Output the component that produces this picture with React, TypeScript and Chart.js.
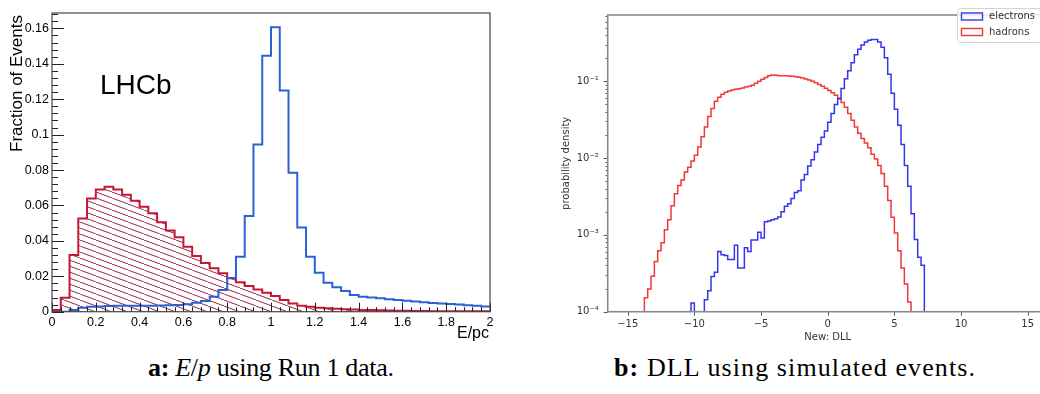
import React, { useEffect, useRef } from "react";
import { Chart, registerables } from "chart.js";
Chart.register(...registerables);

// ---------------- Panel a: E/p ----------------
const EP_EDGES = [
  0, 0.04, 0.08, 0.12, 0.16, 0.2, 0.24, 0.28, 0.32, 0.36, 0.4, 0.44, 0.48, 0.52, 0.56, 0.6, 0.64,
  0.68, 0.72, 0.76, 0.8, 0.84, 0.88, 0.92, 0.96, 1, 1.04, 1.08, 1.12, 1.16, 1.2, 1.24, 1.28, 1.32,
  1.36, 1.4, 1.44, 1.48, 1.52, 1.56, 1.6, 1.64, 1.68, 1.72, 1.76, 1.8, 1.84, 1.88, 1.92, 1.96, 2,
];
const EP_ELECTRONS = [
  0, 0, 0.001, 0.0022, 0.0028, 0.003, 0.0032, 0.0033, 0.0034, 0.0034,
  0.0034, 0.0034, 0.0035, 0.0036, 0.0038, 0.0042, 0.005, 0.006, 0.0085, 0.0123,
  0.019, 0.031, 0.054, 0.0945, 0.1445, 0.1607, 0.1249, 0.0785, 0.0475, 0.031,
  0.022, 0.0164, 0.0138, 0.0117, 0.0094, 0.0085, 0.008, 0.0076, 0.007, 0.0066,
  0.0062, 0.0057, 0.0053, 0.0049, 0.0046, 0.0043, 0.004, 0.0037, 0.0034, 0.003,
];
const EP_HADRONS = [
  0.001, 0.0079, 0.032, 0.0527, 0.064, 0.069, 0.0706, 0.069, 0.066, 0.0627,
  0.0593, 0.0556, 0.0505, 0.0458, 0.042, 0.0367, 0.0315, 0.0275, 0.0245, 0.0217,
  0.0189, 0.0166, 0.0145, 0.0126, 0.0107, 0.0089, 0.0066, 0.0047, 0.0034, 0.0028,
  0.0023, 0.0019, 0.0016, 0.0014, 0.0012, 0.001, 0.0009, 0.0008, 0.0007, 0.0006,
  0.0005, 0.0004, 0.0004, 0.0003, 0.0003, 0.0003, 0.0002, 0.0002, 0.0002, 0.0002,
];
const EP_X_TICKS = [0, 0.2, 0.4, 0.6, 0.8, 1, 1.2, 1.4, 1.6, 1.8, 2];
const EP_Y_TICKS = [0, 0.02, 0.04, 0.06, 0.08, 0.1, 0.12, 0.14, 0.16];
const EP_Y_MAX = 0.1687;

// ---------------- Panel b: DLL ----------------
const DLL_EDGES = [
  -14, -13.75, -13.5, -13.25, -13, -12.75, -12.5, -12.25, -12, -11.75, -11.5, -11.25, -11, -10.75,
  -10.5, -10.25, -10, -9.75, -9.5, -9.25, -9, -8.75, -8.5, -8.25, -8, -7.75, -7.5, -7.25, -7, -6.75,
  -6.5, -6.25, -6, -5.75, -5.5, -5.25, -5, -4.75, -4.5, -4.25, -4, -3.75, -3.5, -3.25, -3, -2.75,
  -2.5, -2.25, -2, -1.75, -1.5, -1.25, -1, -0.75, -0.5, -0.25, 0, 0.25, 0.5, 0.75, 1, 1.25, 1.5,
  1.75, 2, 2.25, 2.5, 2.75, 3, 3.25, 3.5, 3.75, 4, 4.25, 4.5, 4.75, 5, 5.25, 5.5, 5.75, 6, 6.25,
  6.5, 6.75, 7, 7.25, 7.5,
];
const DLL_ELECTRONS = [
  0, 0, 0, 0, 0, 0, 0, 0, 0, 0, 0, 0, 0, 0, 0,
  1.3e-4, 0, 0, 0,
  1.43e-4, 1.87e-4, 2.88e-4, 3.27e-4, 6.07e-4, 5.5e-4, 5.4e-4, 4.8e-4, 4.8e-4, 7.35e-4,
  3.7e-4, 3.7e-4, 6.8e-4, 6.1e-4, 8.6e-4, 8.6e-4, 1.08e-3, 9.1e-4, 1.48e-3, 1.52e-3,
  1.57e-3, 1.62e-3, 1.71e-3, 2.0e-3, 2.36e-3, 2.55e-3, 2.98e-3, 3.56e-3, 3.76e-3, 5.2e-3,
  6.1e-3, 7.9e-3, 9.5e-3, 1.2e-2, 1.5e-2, 1.87e-2, 2.26e-2, 2.94e-2, 3.81e-2, 4.99e-2,
  5.93e-2, 8.07e-2, 0.108, 0.137, 0.175, 0.222, 0.262, 0.297, 0.326, 0.342,
  0.349, 0.349, 0.326, 0.277, 0.202, 0.124, 0.0698, 0.0432, 0.0267, 0.015,
  0.008, 0.0043, 0.00189, 0.00087, 0.00051, 0.000404, 0,
];
const DLL_HADRONS = [
  0, 1.52e-4, 1.98e-4, 2.9e-4, 4.5e-4, 6.2e-4, 7.9e-4, 1.17e-3, 1.58e-3, 2.4e-3,
  3.43e-3, 4.4e-3, 5.2e-3, 6.6e-3, 7.6e-3, 9.2e-3, 1.09e-2, 1.39e-2, 1.9e-2, 2.54e-2,
  3.47e-2, 4.44e-2, 5.5e-2, 6.2e-2, 6.8e-2, 7.2e-2, 7.5e-2, 7.7e-2, 7.9e-2, 0.08,
  0.082, 0.084, 0.086, 0.089, 0.094, 0.1, 0.106, 0.112, 0.118, 0.121,
  0.12, 0.118, 0.118, 0.118, 0.117, 0.116, 0.115, 0.113, 0.11, 0.107,
  0.104, 0.1, 0.096, 0.091, 0.086, 0.081, 0.076, 0.071, 0.066, 0.06,
  0.053, 0.046, 0.038, 0.031, 0.0254, 0.021, 0.018, 0.0157, 0.0136, 0.0112,
  0.0097, 0.008, 0.0063, 0.0043, 0.0028, 0.0017, 0.00106, 0.00062, 0.00037, 0.00023,
  0.000134, 0, 0, 0, 0, 0,
];
const DLL_X_TICKS = [-15, -10, -5, 0, 5, 10, 15];
const DLL_X_TICK_LABELS = ["\u221215", "\u221210", "\u22125", "0", "5", "10", "15"];
const DLL_Y_TICKS = [1e-4, 1e-3, 1e-2, 1e-1];
const DLL_Y_TICK_LABELS = ["10\u207b\u2074", "10\u207b\u00b3", "10\u207b\u00b2", "10\u207b\u00b9"];
const DLL_Y_MIN = 1e-4;
const DLL_Y_MAX = 0.73;
const DLL_FLOOR = 1e-7;

const ROOT_BLUE = "rgb(45, 95, 215)";
const ROOT_RED = "rgb(200, 22, 50)";
const HATCH = "rgb(150, 40, 75)";
const MPL_BLUE = "#3535ee";
const MPL_RED = "#f03838";

function toSteps(edges: number[], values: number[], floor?: number) {
  return edges.map((x, i) => {
    const v = values[Math.min(i, values.length - 1)];
    return { x, y: floor !== undefined && !(v > 0) ? floor : v };
  });
}

function makeHatch(): CanvasPattern | string {
  const W = 16, H = 6;
  const c = document.createElement("canvas");
  c.width = W;
  c.height = H;
  const g = c.getContext("2d");
  if (!g) return "rgba(150,40,75,0.3)";
  g.strokeStyle = HATCH;
  g.lineWidth = 1;
  for (const dx of [-W, 0, W]) {
    g.beginPath();
    g.moveTo(dx, 0);
    g.lineTo(dx + W, H);
    g.stroke();
  }
  return g.createPattern(c, "repeat") || "rgba(150,40,75,0.3)";
}

const rootDecor = {
  id: "rootDecor",
  afterDatasetsDraw(chart: any) {
    const { ctx, chartArea: a, scales } = chart;
    const x = scales.x, y = scales.y;
    ctx.save();
    ctx.strokeStyle = "#222";
    ctx.lineWidth = 1;
    ctx.beginPath();
    for (let k = 0; k <= 60; k++) {
      const v = k * 0.004;
      if (v > EP_Y_MAX + 1e-9) break;
      const py = Math.round(y.getPixelForValue(v)) + 0.5;
      const len = k % 5 === 0 ? 12 : 6;
      ctx.moveTo(a.left, py);
      ctx.lineTo(a.left + len, py);
    }
    for (let k = 0; k <= 50; k++) {
      const px = Math.round(x.getPixelForValue(k * 0.04)) + 0.5;
      const len = k % 5 === 0 ? 9 : 4.5;
      ctx.moveTo(px, a.bottom);
      ctx.lineTo(px, a.bottom - len);
    }
    ctx.stroke();
    ctx.strokeStyle = "#444";
    ctx.lineWidth = 1.2;
    ctx.strokeRect(a.left, a.top, a.right - a.left, a.bottom - a.top);

    ctx.fillStyle = "#000";
    ctx.font = '28px "Liberation Sans", Arial, sans-serif';
    ctx.textAlign = "left";
    ctx.textBaseline = "alphabetic";
    ctx.fillText("LHCb", 100, 94);

    ctx.font = '16px "Liberation Sans", Arial, sans-serif';
    ctx.textAlign = "right";
    ctx.fillText("E/pc", a.right - 1, 338);

    ctx.save();
    ctx.font = '17px "Liberation Sans", Arial, sans-serif';
    ctx.translate(22, a.top + 2);
    ctx.rotate(-Math.PI / 2);
    ctx.textAlign = "right";
    ctx.textBaseline = "alphabetic";
    ctx.fillText("Fraction of Events", 0, 0);
    ctx.restore();
    ctx.restore();
  },
};

const mplDecor = {
  id: "mplDecor",
  afterDatasetsDraw(chart: any) {
    const { ctx, chartArea: a, scales } = chart;
    const x = scales.x, y = scales.y;
    ctx.save();
    ctx.strokeStyle = "#555";
    ctx.lineWidth = 1;
    ctx.beginPath();
    for (const t of DLL_X_TICKS) {
      const px = Math.round(x.getPixelForValue(t)) + 0.5;
      ctx.moveTo(px, a.bottom);
      ctx.lineTo(px, a.bottom + 4);
    }
    for (let e = -4; e <= 0; e++) {
      for (let m = 1; m <= 9; m++) {
        const v = m * Math.pow(10, e);
        if (v < DLL_Y_MIN * 0.999 || v > DLL_Y_MAX) continue;
        const py = Math.round(y.getPixelForValue(v)) + 0.5;
        const len = m === 1 ? 4 : 2.2;
        ctx.moveTo(a.left, py);
        ctx.lineTo(a.left - len, py);
      }
    }
    ctx.stroke();
    ctx.strokeStyle = "#8a8a8a";
    ctx.lineWidth = 1.6;
    ctx.strokeRect(a.left, a.top, a.right - a.left, a.bottom - a.top);

    ctx.fillStyle = "#333";
    ctx.font = '10px "DejaVu Sans", sans-serif';
    ctx.textAlign = "center";
    ctx.textBaseline = "middle";
    ctx.fillText("New: DLL", (a.left + a.right) / 2, 337);
    ctx.save();
    ctx.translate(46, (a.top + a.bottom) / 2);
    ctx.rotate(-Math.PI / 2);
    ctx.fillText("probability density", 0, 0);
    ctx.restore();

    // legend
    const bx = 437, by = 8, bw = 85, bh = 34;
    ctx.fillStyle = "rgba(255,255,255,0.85)";
    ctx.strokeStyle = "#d4d4d4";
    ctx.lineWidth = 1;
    ctx.beginPath();
    (ctx as any).roundRect ? (ctx as any).roundRect(bx + 0.5, by + 0.5, bw, bh, 3) : ctx.rect(bx + 0.5, by + 0.5, bw, bh);
    ctx.fill();
    ctx.stroke();
    chart.data.datasets.forEach((ds: any, i: number) => {
      const cy = by + 8.5 + i * 15.5;
      ctx.strokeStyle = ds.borderColor;
      ctx.lineWidth = 1.4;
      ctx.strokeRect(bx + 4.5, cy - 3.5, 21, 7);
      ctx.fillStyle = "#333";
      ctx.textAlign = "left";
      ctx.textBaseline = "middle";
      ctx.font = '10px "DejaVu Sans", sans-serif';
      ctx.fillText(ds.label, bx + 32, cy);
    });
    ctx.restore();
  },
};

export default function App() {
  const leftRef = useRef<HTMLCanvasElement>(null);
  const rightRef = useRef<HTMLCanvasElement>(null);

  useEffect(() => {
    if (!leftRef.current || !rightRef.current) return;
    const hatch = makeHatch();
    const left = new Chart(leftRef.current, {
      type: "line",
      data: {
        datasets: [
          {
            label: "electrons",
            data: toSteps(EP_EDGES, EP_ELECTRONS),
            borderColor: ROOT_BLUE,
            borderWidth: 2,
            pointRadius: 0,
            stepped: true,
            fill: false,
          },
          {
            label: "hadrons",
            data: toSteps(EP_EDGES, EP_HADRONS),
            borderColor: ROOT_RED,
            backgroundColor: hatch as any,
            borderWidth: 2,
            pointRadius: 0,
            stepped: true,
            fill: "origin",
          },
        ],
      },
      options: {
        responsive: false,
        animation: false,
        events: [],
        layout: { padding: { left: 0, right: 30, top: 13, bottom: 0 } },
        plugins: { legend: { display: false }, tooltip: { enabled: false } },
        scales: {
          x: {
            type: "linear",
            min: 0,
            max: 2,
            afterFit: (s: any) => { s.height = 33.3; },
            afterBuildTicks: (s: any) => { s.ticks = EP_X_TICKS.map((v) => ({ value: v })); },
            grid: { display: false, drawTicks: false },
            border: { display: false },
            ticks: {
              padding: 3,
              autoSkip: false,
              maxRotation: 0,
              color: "#000",
              font: { family: '"Liberation Sans", Arial, sans-serif', size: 12.5 },
              callback: (v: any) => String(v),
            },
          },
          y: {
            type: "linear",
            min: 0,
            max: EP_Y_MAX,
            afterFit: (s: any) => { s.width = 52; },
            afterBuildTicks: (s: any) => { s.ticks = EP_Y_TICKS.map((v) => ({ value: v })); },
            grid: { display: false, drawTicks: false },
            border: { display: false },
            ticks: {
              padding: 3,
              autoSkip: false,
              color: "#000",
              font: { family: '"Liberation Sans", Arial, sans-serif', size: 12.5 },
              callback: (v: any) => String(v),
            },
          },
        },
      },
      plugins: [rootDecor],
    } as any);

    const right = new Chart(rightRef.current, {
      type: "line",
      data: {
        datasets: [
          {
            label: "electrons",
            data: toSteps(DLL_EDGES, DLL_ELECTRONS, DLL_FLOOR),
            borderColor: MPL_BLUE,
            borderWidth: 1.5,
            pointRadius: 0,
            stepped: true,
            fill: false,
          },
          {
            label: "hadrons",
            data: toSteps(DLL_EDGES, DLL_HADRONS, DLL_FLOOR),
            borderColor: MPL_RED,
            borderWidth: 1.5,
            pointRadius: 0,
            stepped: true,
            fill: false,
          },
        ],
      },
      options: {
        responsive: false,
        animation: false,
        events: [],
        layout: { padding: { left: 0, right: 12.3, top: 4, bottom: 0 } },
        plugins: { legend: { display: false }, tooltip: { enabled: false } },
        scales: {
          x: {
            type: "linear",
            min: -16.5,
            max: 16.5,
            afterFit: (s: any) => { s.height = 33.3; },
            afterBuildTicks: (s: any) => { s.ticks = DLL_X_TICKS.map((v) => ({ value: v })); },
            grid: { display: false, drawTicks: false },
            border: { display: false },
            ticks: {
              padding: 7,
              autoSkip: false,
              maxRotation: 0,
              color: "#333",
              font: { family: '"DejaVu Sans", sans-serif', size: 10 },
              callback: (_v: any, i: number) => DLL_X_TICK_LABELS[i],
            },
          },
          y: {
            type: "logarithmic",
            min: DLL_Y_MIN,
            max: DLL_Y_MAX,
            afterFit: (s: any) => { s.width = 87.7; },
            afterBuildTicks: (s: any) => { s.ticks = DLL_Y_TICKS.map((v) => ({ value: v })); },
            grid: { display: false, drawTicks: false },
            border: { display: false },
            ticks: {
              padding: 9,
              autoSkip: false,
              color: "#333",
              font: { family: '"DejaVu Sans", sans-serif', size: 10 },
              callback: (_v: any, i: number) => DLL_Y_TICK_LABELS[i],
            },
          },
        },
      },
      plugins: [mplDecor],
    } as any);

    return () => {
      left.destroy();
      right.destroy();
    };
  }, []);

  const cap: React.CSSProperties = {
    position: "absolute",
    top: 353,
    font: '26px "Liberation Serif", "Times New Roman", serif',
    lineHeight: "30px",
    whiteSpace: "nowrap",
    color: "#000",
  };

  return (
    <div style={{ position: "absolute", left: 0, top: 0, width: 1040, height: 394, overflow: "hidden", background: "#fff" }}>
      <canvas ref={leftRef} width={520} height={345} style={{ position: "absolute", left: 0, top: 0 }} />
      <canvas ref={rightRef} width={540} height={345} style={{ position: "absolute", left: 520, top: 0 }} />
      <div style={{ ...cap, left: 148, letterSpacing: "-0.3px" }}>
        <b>a:</b> <i>E</i>/<i>p</i> using Run 1 data.
      </div>
      <div style={{ ...cap, left: 614, letterSpacing: "1.1px" }}>
        <b>b:</b> DLL using simulated events.
      </div>
    </div>
  );
}
